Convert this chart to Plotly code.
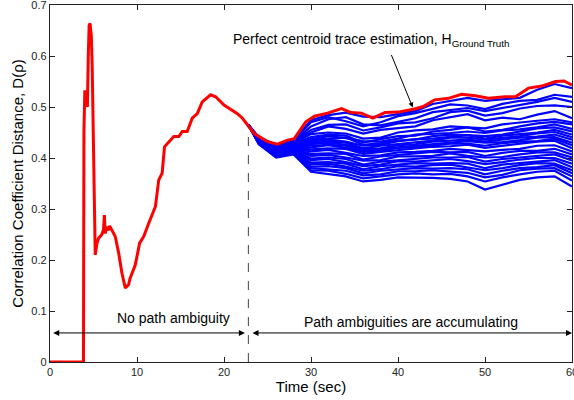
import plotly.graph_objects as go

# ---- data ----
red_t = [0, 3.85, 3.9, 4.0, 4.15, 4.3, 4.4, 4.5, 4.6, 4.75, 4.85, 4.95, 5.05, 5.2, 5.4, 5.6, 5.96,
         6.15, 6.25, 6.35, 6.5, 6.7, 6.85, 7.1, 7.5, 7.9, 8.27, 8.66, 9.04, 9.2, 9.8, 10.3, 10.77,
         11.35, 12.12, 12.5, 12.89, 13.16, 13.65, 14.23, 14.81, 15.2, 15.77, 16.35, 16.93, 17.5,
         18.46, 19.04, 20.0, 20.77, 21.54, 22.12, 22.7, 23.47, 24.24, 25.0, 26.16, 27.3, 28.08,
         29.4, 30.4, 31.9, 33.5, 34.6, 35.8, 37.1, 38.5, 40.0, 41.9, 42.9, 44.2, 45.8, 47.3, 48.9,
         50.4, 52.3, 53.5, 55.0, 56.5, 58.1, 59.1, 60]
red_d = [0, 0, 0.45, 0.53, 0.53, 0.50, 0.60, 0.66, 0.664, 0.64, 0.58, 0.45, 0.33, 0.21, 0.233,
         0.243, 0.25, 0.26, 0.288, 0.252, 0.265, 0.258, 0.267, 0.259, 0.246, 0.213, 0.174, 0.145,
         0.152, 0.164, 0.19, 0.233, 0.246, 0.272, 0.305, 0.357, 0.37, 0.422, 0.432, 0.442, 0.442,
         0.452, 0.452, 0.478, 0.487, 0.51, 0.524, 0.52, 0.504, 0.495, 0.487, 0.478, 0.465, 0.448,
         0.44, 0.432, 0.427, 0.435, 0.438, 0.471, 0.482, 0.488, 0.497, 0.489, 0.488, 0.478, 0.489,
         0.49, 0.496, 0.501, 0.514, 0.517, 0.525, 0.522, 0.517, 0.52, 0.52, 0.537, 0.541, 0.55,
         0.551, 0.543]

blue_t = [22.8, 24, 26, 28, 30, 32, 34, 36, 38, 40, 42, 44, 46, 48, 50, 52, 54, 56, 58, 60]

L1 = [.465, .441, .426, .436, .474, .484, .489, .481, .480, .486, .492, .506, .512, .518, .512, .515, .518, .534, .545, .537]
L2 = [.465, .440, .425, .434, .470, .480, .472, .462, .470, .482, .488, .496, .505, .503, .496, .506, .512, .514, .524, .520]
L3 = [.465, .439, .424, .432, .462, .476, .480, .466, .464, .471, .478, .490, .494, .498, .492, .498, .505, .510, .518, .510]
L4 = [.465, .439, .423, .431, .455, .465, .466, .454, .460, .468, .470, .478, .490, .493, .483, .488, .497, .502, .503, .500]
L5 = [.465, .438, .422, .430, .450, .462, .457, .448, .455, .458, .462, .474, .480, .486, .474, .479, .476, .485, .492, .478]
L6 = [.465, .437, .421, .429, .447, .450, .448, .438, .440, .450, .454, .456, .462, .460, .458, .466, .470, .473, .476, .470]
L7 = [.465, .437, .420, .428, .441, .446, .444, .430, .437, .443, .444, .452, .455, .460, .452, .455, .462, .468, .471, .466]
L8 = [.465, .436, .419, .427, .437, .443, .439, .433, .432, .438, .446, .447, .449, .452, .449, .454, .456, .460, .466, .457]
L9 = [.465, .436, .418, .426, .435, .438, .440, .426, .429, .434, .436, .443, .446, .445, .443, .446, .452, .458, .460, .452]
L10 = [.465, .435, .417, .425, .432, .436, .432, .424, .426, .433, .437, .438, .441, .445, .438, .444, .447, .450, .455, .446]
L11 = [.465, .435, .416, .424, .429, .432, .430, .419, .424, .427, .430, .434, .440, .440, .436, .439, .443, .448, .451, .441]
L12 = [.465, .434, .415, .423, .427, .430, .426, .418, .419, .425, .427, .432, .434, .436, .432, .436, .440, .442, .446, .436]
L13 = [.465, .434, .414, .422, .424, .426, .424, .414, .418, .421, .425, .428, .431, .433, .430, .431, .435, .440, .441, .430]
L14 = [.465, .433, .413, .421, .421, .425, .420, .412, .414, .420, .421, .424, .428, .428, .424, .429, .432, .433, .438, .425]
L15 = [.465, .433, .412, .420, .417, .419, .418, .408, .412, .415, .418, .422, .423, .426, .420, .424, .429, .432, .434, .419]
L16 = [.465, .432, .411, .418, .413, .416, .410, .404, .405, .411, .412, .414, .418, .415, .413, .416, .418, .424, .425, .413]
L17 = [.465, .432, .410, .417, .408, .409, .408, .397, .403, .406, .410, .412, .411, .412, .404, .410, .414, .414, .418, .407]
L18 = [.465, .431, .409, .416, .404, .406, .401, .395, .396, .403, .403, .404, .409, .404, .401, .402, .407, .411, .411, .401]
L19 = [.465, .431, .408, .415, .399, .401, .398, .387, .393, .396, .399, .401, .401, .402, .393, .398, .401, .404, .407, .395]
L20 = [.465, .430, .407, .414, .396, .398, .392, .384, .387, .394, .393, .395, .398, .394, .388, .392, .397, .400, .400, .389]
L21 = [.465, .430, .406, .413, .391, .392, .389, .378, .384, .387, .390, .389, .390, .389, .380, .387, .390, .393, .396, .382]
L22 = [.465, .429, .405, .412, .388, .389, .383, .375, .378, .384, .383, .386, .387, .382, .376, .380, .386, .390, .389, .376]
L23 = [.465, .429, .404, .411, .383, .384, .380, .370, .375, .378, .380, .379, .380, .378, .368, .375, .380, .382, .386, .370]
L24 = [.465, .428, .403, .410, .380, .378, .375, .366, .368, .374, .374, .376, .374, .371, .362, .367, .376, .379, .380, .364]
L25 = [.465, .428, .402, .409, .376, .375, .369, .360, .364, .368, .370, .368, .369, .364, .354, .362, .368, .373, .375, .356]
L26 = [.465, .427, .401, .407, .373, .369, .364, .354, .357, .362, .362, .361, .359, .354, .338, .347, .357, .362, .364, .344]

blue_lines = [L1, L2, L3, L4, L5, L6, L7, L8, L9, L10, L11, L12, L13,
              L14, L15, L16, L17, L18, L19, L20, L21, L22, L23, L24, L25, L26]

split_t = 22.8
split_top = 0.462
arrow_y = 0.057
x_ticks = [0, 10, 20, 30, 40, 50, 60]
y_ticks = [0, 0.1, 0.2, 0.3, 0.4, 0.5, 0.6, 0.7]

FONT = "Liberation Sans, Arial, sans-serif"

fig = go.Figure()
for line in blue_lines:
    fig.add_trace(go.Scatter(x=blue_t, y=line, mode="lines",
                             line=dict(color="#0000FF", width=2.2),
                             showlegend=False, hoverinfo="skip"))
fig.add_trace(go.Scatter(x=red_t, y=red_d, mode="lines",
                         line=dict(color="#FF0000", width=3),
                         showlegend=False))

# dashed split line
fig.add_shape(type="line", x0=split_t, x1=split_t, y0=0, y1=split_top,
              xref="x", yref="y", line=dict(color="#444", width=1, dash="dash"))

# double-headed arrows
for x0, x1 in [(0.2, split_t - 0.4), (split_t + 0.3, 60)]:
    fig.add_annotation(x=x1, y=arrow_y, ax=x0, ay=arrow_y, xref="x", yref="y",
                       axref="x", ayref="y", text="", showarrow=True,
                       arrowhead=2, startarrowhead=2, arrowside="end+start",
                       arrowsize=1.2, startarrowsize=1.2, arrowwidth=1, arrowcolor="#000")

fig.add_annotation(x=14.2, y=0.086, text="No path ambiguity", showarrow=False,
                   xref="x", yref="y", font=dict(family=FONT, size=14, color="#000"))
fig.add_annotation(x=41.5, y=0.078, text="Path ambiguities are accumulating", showarrow=False,
                   xref="x", yref="y", font=dict(family=FONT, size=14, color="#000"))

# pointer arrow
fig.add_annotation(x=41.7, y=0.499, ax=-22, ay=-54, xref="x", yref="y", text="",
                   showarrow=True, arrowhead=2, arrowsize=1, arrowwidth=1, arrowcolor="#000")
fig.add_annotation(x=20.8, y=0.632, xanchor="left", yanchor="middle",
                   text="Perfect centroid trace estimation, H<sub>Ground Truth</sub>",
                   showarrow=False, xref="x", yref="y",
                   font=dict(family=FONT, size=14, color="#000"))

axis_common = dict(showline=True, linecolor="#222", linewidth=1.3, mirror="ticks",
                   ticks="inside", ticklen=5, tickcolor="#222", showgrid=False,
                   zeroline=False, tickfont=dict(family=FONT, size=11, color="#222"),
                   automargin=False, ticklabeloverflow="allow")

fig.update_xaxes(range=[0, 60], tickvals=x_ticks, ticktext=[str(v) for v in x_ticks],
                 title=dict(text="Time (sec)", font=dict(family=FONT, size=15, color="#000"),
                            standoff=2),
                 **axis_common)
fig.update_yaxes(range=[0, 0.7], tickvals=y_ticks,
                 ticktext=["0" if v == 0 else f"{v:.1f}" for v in y_ticks],
                 title=dict(text="Correlation Coefficient Distance, D(\u03c1)",
                            font=dict(family=FONT, size=15, color="#000"), standoff=4),
                 **axis_common)

fig.update_layout(width=574, height=400, margin=dict(l=50, r=2, t=5, b=38),
                  plot_bgcolor="white", paper_bgcolor="white", showlegend=False)

fig.write_html("out.html")
